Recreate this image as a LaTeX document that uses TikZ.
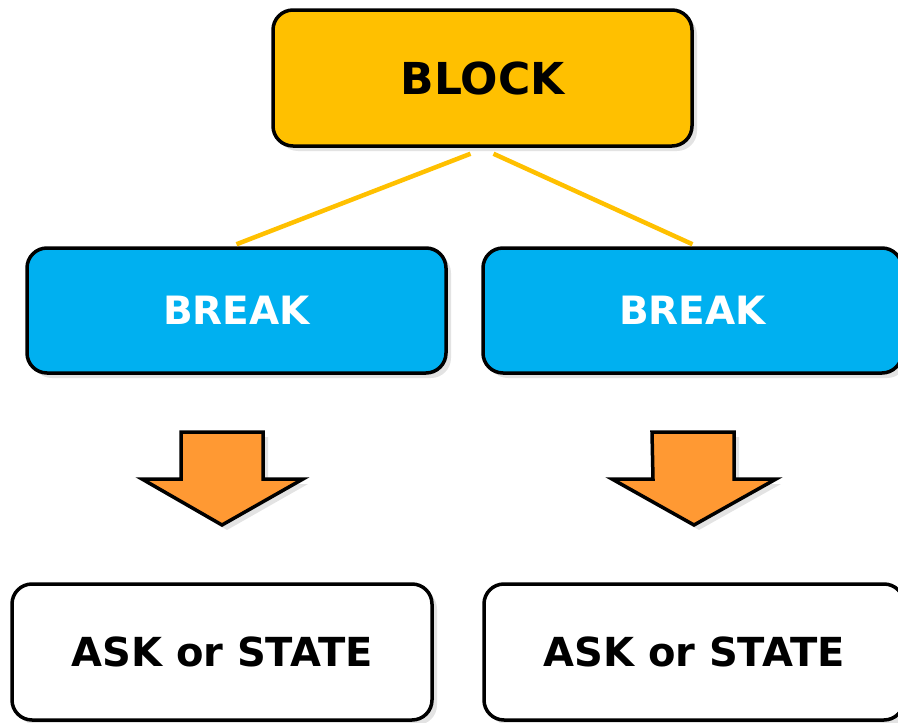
\documentclass[tikz,border=0pt]{standalone}
\usepackage{fontspec}
\setmainfont{DejaVu Sans}
\usetikzlibrary{shadows}
\definecolor{blockyellow}{HTML}{FFC000}
\definecolor{breakblue}{HTML}{00B0F0}
\definecolor{arroworange}{HTML}{FF9933}
\definecolor{shadowgray}{HTML}{E3E3E3}
\tikzset{
  box/.style={draw=black, line width=3.5pt, rounded corners=20pt,
    minimum width=419pt, inner sep=0pt, font=\bfseries,
    drop shadow={shadow xshift=5pt, shadow yshift=-5pt, fill=shadowgray, opacity=1}},
  blockbox/.style={box, fill=blockyellow, minimum height=136pt, font=\fontsize{44}{48}\selectfont\bfseries},
  breakbox/.style={box, fill=breakblue, text=white, minimum height=125pt, font=\fontsize{39}{42}\selectfont\bfseries},
  askbox/.style={box, fill=white, minimum width=420pt, minimum height=136pt, font=\fontsize{40}{44}\selectfont\bfseries},
  link/.style={draw=blockyellow, line width=4.5pt},
  downarrow/.style={draw=black, line width=3.5pt, fill=arroworange, line join=miter,
    drop shadow={shadow xshift=5pt, shadow yshift=-5pt, fill=shadowgray, opacity=1}}
}
\begin{document}
\begin{tikzpicture}[x=1pt,y=-1pt]
  \useasboundingbox (0,0) rectangle (898,723);
  % top block
  \node[blockbox] (block) at (482.5,78) {BLOCK};
  % breaks
  \node[breakbox] (breakl) at (236.5,310.5) {BREAK};
  \node[breakbox] (breakr) at (692.5,310.5) {BREAK};
  % ask or state
  \node[askbox] (askl) at (222,652) {ASK or STATE};
  \node[askbox] (askr) at (694,652) {ASK or STATE};
  % links
  \draw[link] ([xshift=-12pt,yshift=-6pt]block.south) -- ([yshift=2pt]breakl.north);
  \draw[link] ([xshift=11pt,yshift=-6pt]block.south) -- ([yshift=2pt]breakr.north);
  % arrows
  \coordinate (arrl) at (222,432);
  \coordinate (arrr) at (693,432);
  \draw[downarrow] (arrl) ++(-41,0) -- ++(82,0) -- ++(0,47) -- ++(40,0)
    -- ++(-81,46) -- ++(-80,-46) -- ++(39,0) -- cycle;
  \draw[downarrow] (arrr) ++(-41,0) -- ++(82,0) -- ++(0,47) -- ++(42,0)
    -- ++(-82,46) -- ++(-82,-46) -- ++(41,0) -- cycle;
\end{tikzpicture}
\end{document}
